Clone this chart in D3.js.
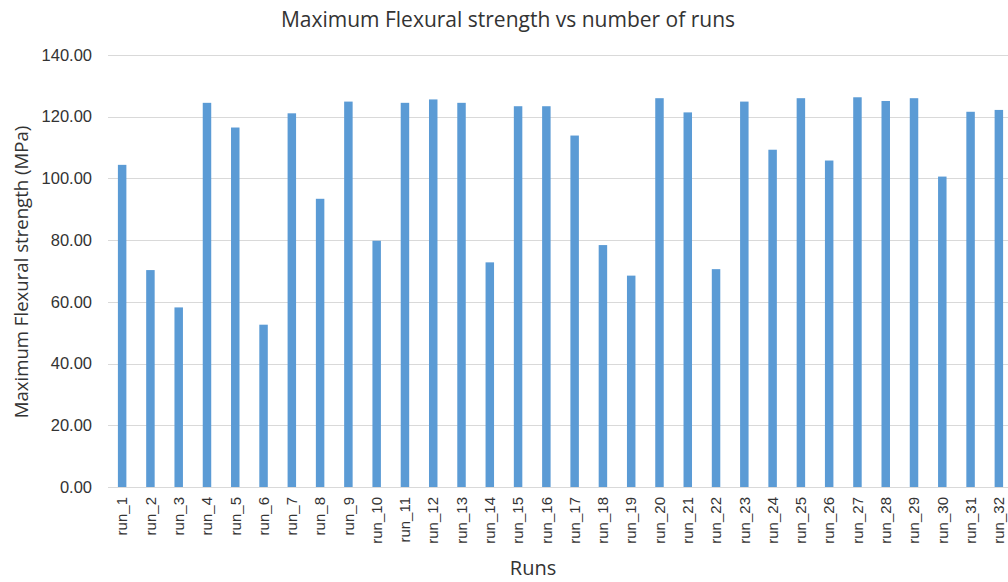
<!DOCTYPE html>
<html>
<head>
<meta charset="utf-8">
<script src="https://cdn.jsdelivr.net/npm/d3@7"></script>
<style>
  body { margin: 0; background: #fff; }
  svg { display: block; font-family: "Open Sans", "Liberation Sans", sans-serif; }
</style>
</head>
<body>
<div id="chart"></div>
<script>
// data
const runs = d3.range(1, 33).map(i => "run_" + i);
const strength = [
    104.4, 70.3, 58.2, 124.5, 116.5, 52.6, 121.1, 93.4,
    124.9, 79.8, 124.5, 125.6, 124.5, 72.8, 123.4, 123.4,
    113.9, 78.4, 68.5, 126.0, 121.4, 70.6, 124.9, 109.3,
    126.0, 105.8, 126.3, 125.1, 126.0, 100.6, 121.6, 122.2
];
const yTicks = [0, 20, 40, 60, 80, 100, 120, 140];

const W = 1008, H = 582;
const margin = { top: 55, right: -5, bottom: 95, left: 108 };
const textColor = "#333";

const svg = d3.select("#chart").append("svg")
    .attr("width", W)
    .attr("height", H);

const x = d3.scaleBand()
    .domain(runs)
    .range([margin.left, W - margin.right])
    .paddingInner(0.7)
    .paddingOuter(0.35);

const y = d3.scaleLinear()
    .domain([0, 140])
    .range([H - margin.bottom, margin.top]);

// gridlines
svg.append("g")
    .selectAll("line")
    .data(yTicks)
    .join("line")
    .attr("x1", margin.left)
    .attr("x2", W - margin.right)
    .attr("y1", d => Math.round(y(d)) + 0.5)
    .attr("y2", d => Math.round(y(d)) + 0.5)
    .attr("stroke", "#d9d9d9")
    .attr("stroke-width", 1);

// y axis labels
const yAxis = svg.append("g")
    .attr("transform", "translate(" + margin.left + ",0)")
    .call(d3.axisLeft(y).tickValues(yTicks).tickFormat(d3.format(".2f")).tickSize(0).tickPadding(16));
yAxis.select(".domain").remove();
yAxis.selectAll("text")
    .style("font-size", "16.5px")
    .attr("fill", textColor);

// bars
svg.append("g")
    .selectAll("rect")
    .data(strength)
    .join("rect")
    .attr("x", (d, i) => x(runs[i]))
    .attr("width", x.bandwidth())
    .attr("y", d => y(d))
    .attr("height", d => y(0) - y(d))
    .attr("fill", "#5b9bd5");

// x axis labels
const xAxis = svg.append("g")
    .attr("transform", "translate(0," + y(0) + ")")
    .call(d3.axisBottom(x).tickSize(0).tickPadding(0));
xAxis.select(".domain").remove();
xAxis.selectAll("text")
    .attr("transform", "rotate(-90)")
    .attr("x", -10)
    .attr("y", 0)
    .attr("dy", "0.35em")
    .style("text-anchor", "end")
    .style("font-size", "15px")
    .attr("fill", textColor);

// chart title
svg.append("text")
    .attr("x", 508)
    .attr("y", 27)
    .style("text-anchor", "middle")
    .style("font-size", "21px")
    .attr("fill", textColor)
    .text("Maximum Flexural strength vs number of runs");

// x axis title
svg.append("text")
    .attr("x", 533)
    .attr("y", 575)
    .style("text-anchor", "middle")
    .style("font-size", "20px")
    .attr("fill", textColor)
    .text("Runs");

// y axis title
svg.append("text")
    .attr("transform", "rotate(-90)")
    .attr("x", -272)
    .attr("y", 28)
    .style("text-anchor", "middle")
    .style("font-size", "18.6px")
    .attr("fill", textColor)
    .text("Maximum Flexural strength (MPa)");
</script>
</body>
</html>
